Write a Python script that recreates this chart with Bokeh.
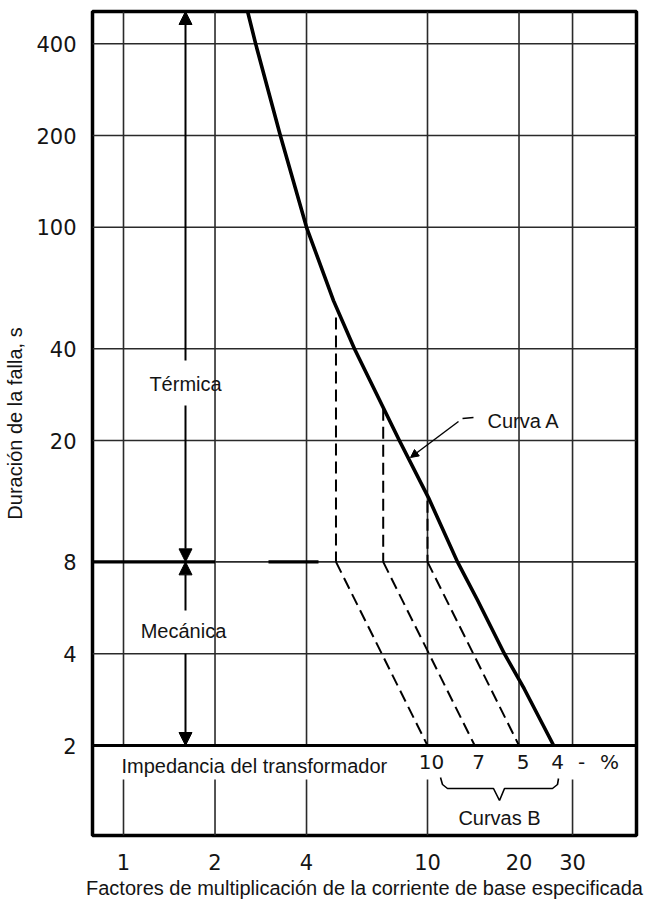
import math
from bokeh.plotting import figure
from bokeh.models import Range1d, FixedTicker, NumeralTickFormatter, Arrow, NormalHead, Label
from bokeh.embed import file_html
from bokeh.resources import INLINE

# ---------------- data ----------------
x_ticks = [1, 2, 4, 10, 20, 30]
y_ticks = [2, 4, 8, 20, 40, 100, 200, 400]
strip_ticks = [1, 2, 4, 10, 30]

# Curva A (thick solid)
curve_a_x = [2.56, 2.72, 3.28, 4.0, 4.91, 5.75, 8.08, 10.07, 12.55, 14.6, 17.9, 20.8, 26.0]
curve_a_y = [510, 400, 200, 100, 57.4, 40, 20, 13.0, 8.0, 6.0, 4.0, 3.07, 2.0]

# Curvas B (dashed): impedance labels, vertical part and 1/I^2 part
b_impedance = ["10", "7", "5", "4"]
b_knee_x = [5.0, 7.15, 10.0]
b_top_y = [50.6, 25.4, 12.7]
b_end_x = [10.0, 14.3, 20.0]
t_knee = 8
t_end = 2

# ---------------- pixel helpers for annotation placement ----------------
X0, DECX = 123.0, 304.0
Y2, DECY = 745.0, 305.0


def px_x(px):
    return 10 ** ((px - X0) / DECX)


def px_y(py):
    return 2 * 10 ** ((Y2 - py) / DECY)


FONT = "Liberation Sans"
TICK_FONT = "DejaVu Sans"
INK = "#141414"
GRID = "#2a2a2a"

x_lo, x_hi = px_x(92), px_x(636)
y_lo, y_hi = px_y(835), px_y(11)

p = figure(
    x_axis_type="log", y_axis_type="log",
    x_range=Range1d(x_lo, x_hi), y_range=Range1d(y_lo, y_hi),
    frame_width=544, frame_height=824,
    min_border_left=92, min_border_right=32, min_border_top=11, min_border_bottom=64,
    toolbar_location=None, output_backend="svg",
    background_fill_color="white", border_fill_color="white",
)
p.outline_line_color = "black"
p.outline_line_width = 3.5
p.xgrid.visible = False
p.ygrid.visible = False

for ax, ticks, standoff in ((p.xaxis, x_ticks, 12), (p.yaxis, y_ticks, 10)):
    ax.ticker = FixedTicker(ticks=ticks)
    ax.formatter = NumeralTickFormatter(format="0")
    ax.axis_line_color = None
    ax.major_tick_line_color = None
    ax.minor_tick_line_color = None
    ax.major_label_standoff = standoff
    ax.major_label_text_font = TICK_FONT
    ax.major_label_text_font_size = "21px"
    ax.major_label_text_color = INK
    ax.axis_label_text_font = FONT
    ax.axis_label_text_font_size = "20px"
    ax.axis_label_text_font_style = "normal"
    ax.axis_label_text_color = INK

p.yaxis.axis_label = "Duración de la falla, s"
p.yaxis.axis_label_standoff = 7
p.xaxis.axis_label = "Factores de multiplicación de la corriente de base especificada"
p.xaxis.axis_label_standoff = 4

# ---------------- grid ----------------
p.segment(x0=x_ticks, y0=[t_end] * len(x_ticks), x1=x_ticks, y1=[y_hi] * len(x_ticks),
          line_color=GRID, line_width=1.6)
p.segment(x0=strip_ticks, y0=[y_lo] * len(strip_ticks), x1=strip_ticks,
          y1=[px_y(779)] * len(strip_ticks), line_color=GRID, line_width=1.6)
p.segment(x0=[x_lo] * len(y_ticks), y0=y_ticks, x1=[x_hi] * len(y_ticks), y1=y_ticks,
          line_color=GRID, line_width=1.6)
# bold lines: 2 s baseline and 8 s limit
p.segment(x0=[x_lo], y0=[t_end], x1=[x_hi], y1=[t_end], line_color="black", line_width=3.2)
p.segment(x0=[x_lo, px_x(268)], y0=[t_knee, t_knee], x1=[2.0, px_x(318)], y1=[t_knee, t_knee],
          line_color="black", line_width=3.2)

# ---------------- curves ----------------
p.line(curve_a_x, curve_a_y, line_color="black", line_width=3.6, line_join="round")
p.segment(x0=b_knee_x, y0=b_top_y, x1=b_knee_x, y1=[t_knee] * 3,
          line_color="black", line_width=2, line_dash="12 6")
p.segment(x0=b_knee_x, y0=[t_knee] * 3, x1=b_end_x, y1=[t_end] * 3,
          line_color="black", line_width=2, line_dash="12 6")

# ---------------- arrows (Térmica / Mecánica) ----------------
ax_x = px_x(185)


def arrow(y0, y1, size=13, width=2.0, x0=ax_x, x1=ax_x):
    p.add_layout(Arrow(end=NormalHead(size=size, fill_color="black", line_color="black"),
                       x_start=x0, y_start=y0, x_end=x1, y_end=y1,
                       line_color="black", line_width=width))


arrow(px_y(360), y_hi)
arrow(px_y(405), t_knee)
arrow(px_y(610), t_knee)
arrow(y_ticks[1], t_end)

# Curva A leader
p.segment(x0=[px_x(462)], y0=[px_y(418)], x1=[px_x(473)], y1=[px_y(417)],
          line_color="black", line_width=1.4)
arrow(px_y(421), px_y(457), size=8, width=1.4, x0=px_x(458), x1=px_x(410))

# brace under the impedance labels
brace_px = [(440, 777), (442, 784), (447, 788), (493, 788), (499, 800),
            (504, 788), (552, 788), (557, 784), (558, 778)]
p.line([px_x(a) for a, b in brace_px], [px_y(b) for a, b in brace_px],
       line_color="black", line_width=1.6)

# ---------------- texts ----------------


def label(x, y, text, align="center", size="20px", angle=0.0, font=FONT, x_offset=0):
    p.add_layout(Label(x=x, y=y, text=text, text_align=align, text_baseline="middle",
                       text_font=font, text_font_size=size, text_color=INK, angle=angle,
                       x_offset=x_offset))


label(ax_x, px_y(383), "Térmica")
label(px_x(183), px_y(630), "Mecánica")
label(px_x(121), px_y(765), "Impedancia del transformador", align="left")
label(px_x(487), px_y(420), "Curva A", align="left")
label(px_x(499), px_y(817), "Curvas B")
for xe, txt in zip(b_end_x + [curve_a_x[-1]], b_impedance):
    label(xe, px_y(761), txt, font=TICK_FONT, x_offset=4)
label(px_x(581), px_y(761), "-", font=TICK_FONT)
label(px_x(609), px_y(761), "%", font=TICK_FONT)

open("out.html", "w").write(file_html(p, INLINE))
